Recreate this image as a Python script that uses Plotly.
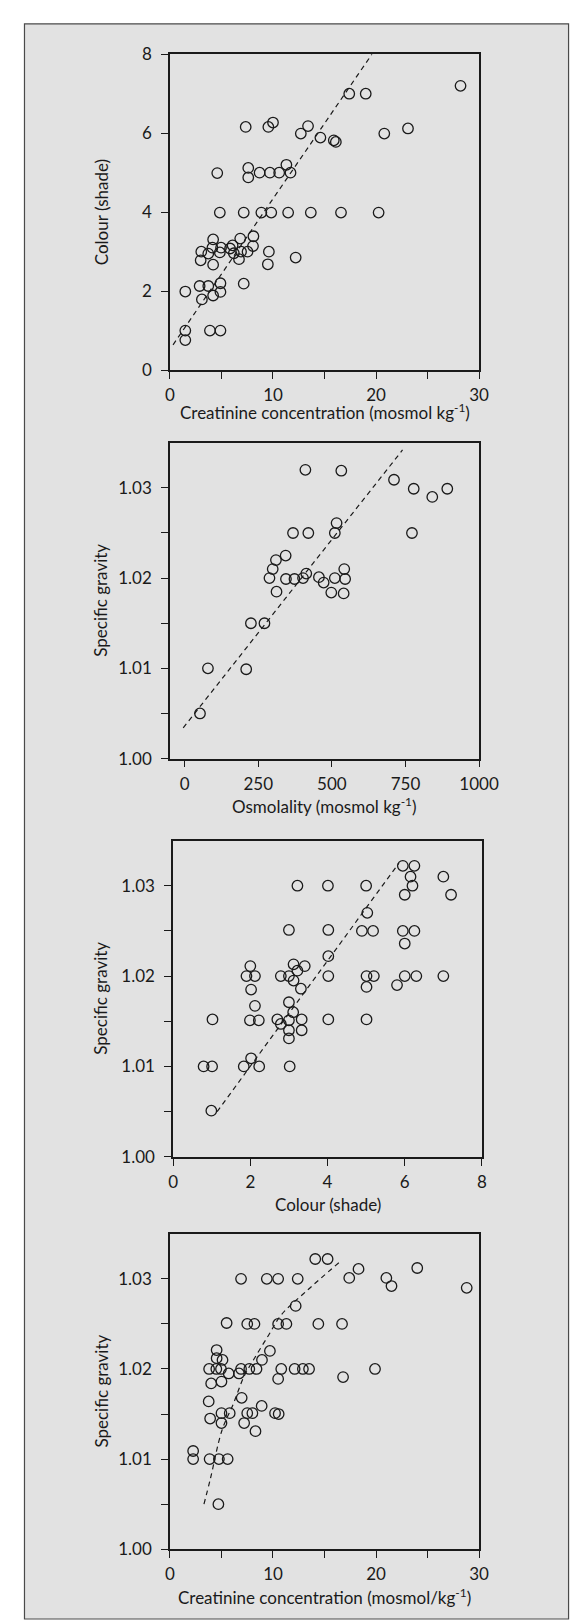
import plotly.graph_objects as go

# ---------------- data ----------------
# Panel 1: creatinine vs colour
p1_creat = [17.4, 19.0, 7.35, 9.55, 10.0, 12.7, 13.4, 14.6, 15.9, 16.1,
            4.59, 7.6, 7.6, 8.7, 9.7, 10.6, 11.3, 11.7,
            4.84, 7.16, 8.87, 9.83, 11.47, 13.67, 16.6, 20.25,
            28.2, 23.1, 20.8,
            1.49, 1.49, 1.49, 3.88, 4.9, 2.88, 3.72, 3.1, 4.19, 4.9, 4.9, 7.16,
            2.98, 3.04, 3.72, 4.19, 4.12, 4.19, 4.84, 4.96, 5.83, 6.08, 6.2, 6.7,
            6.82, 6.9, 7.53, 8.06, 8.1, 9.6, 9.5, 12.2]
p1_colour = [7.0, 7.0, 6.16, 6.16, 6.27, 5.99, 6.18, 5.89, 5.82, 5.78,
             4.99, 5.12, 4.88, 5.0, 5.0, 5.0, 5.2, 5.0,
             3.99, 3.99, 3.99, 3.99, 3.99, 3.99, 3.99, 3.99,
             7.2, 6.12, 5.99,
             1.99, 1.0, 0.76, 1.0, 1.0, 2.13, 2.13, 1.79, 1.89, 1.98, 2.2, 2.19,
             2.78, 3.0, 2.95, 3.31, 3.1, 2.67, 2.98, 3.1, 3.08, 3.16, 2.96, 2.81,
             3.33, 3.0, 3.0, 3.14, 3.39, 3.0, 2.68, 2.85]
p1_fit_x = [0.3, 19.6]
p1_fit_y = [0.64, 8.0]

# Panel 2: osmolality vs specific gravity
p2_osmo = [410, 532, 368, 420, 343, 310, 299, 288, 312, 344, 373, 402, 413,
           456, 472, 498, 510, 510, 516, 542, 545, 540,
           711, 778, 841, 892, 772,
           225, 271, 79, 209, 52]
p2_sg = [1.0320, 1.0319, 1.0250, 1.0250, 1.0225, 1.0220, 1.0210, 1.0200, 1.0185,
         1.0199, 1.0199, 1.0200, 1.0205, 1.0201, 1.0195, 1.0184, 1.0200, 1.0250,
         1.0261, 1.0210, 1.0199, 1.0183,
         1.0309, 1.0299, 1.0290, 1.0299, 1.0250,
         1.0150, 1.0150, 1.0100, 1.0099, 1.0050]
p2_fit_x = [-5, 740]
p2_fit_y = [1.0034, 1.0342]

# Panel 3: colour vs specific gravity
p3_colour = [3.22, 4.01, 5.0, 3.0, 4.02, 4.89, 5.18, 5.03, 4.02, 4.02, 5.01, 5.2,
             5.01, 2.0, 1.9, 2.12, 2.02, 2.12, 2.79, 3.0, 3.12, 3.12, 3.22, 3.41,
             3.31, 3.0, 1.02, 1.99, 2.22, 2.7, 3.11, 3.0, 2.79, 3.0, 3.0, 3.33,
             3.33, 4.02, 5.01, 0.79, 1.01, 1.83, 2.02, 2.23, 3.02, 0.99,
             5.95, 6.25, 6.15, 6.2, 6.0, 5.95, 6.25, 6.0, 6.0, 5.8, 6.3, 7.0, 7.2, 7.0]
p3_sg = [1.0300, 1.0300, 1.0300, 1.0251, 1.0251, 1.0250, 1.0250, 1.0270, 1.0222,
         1.0200, 1.0200, 1.0200, 1.0188, 1.0211, 1.0200, 1.0200, 1.0185, 1.0167,
         1.0200, 1.0200, 1.0195, 1.0213, 1.0206, 1.0211, 1.0186, 1.0171, 1.0152,
         1.0151, 1.0151, 1.0152, 1.0160, 1.0151, 1.0147, 1.0140, 1.0131, 1.0152,
         1.0140, 1.0152, 1.0152, 1.0100, 1.0100, 1.0100, 1.0109, 1.0100, 1.0100,
         1.0051,
         1.0322, 1.0322, 1.0310, 1.0300, 1.0290, 1.0250, 1.0250, 1.0236, 1.0200,
         1.0190, 1.0200, 1.0310, 1.0290, 1.0200]
p3_fit_x = [1.14, 5.85]
p3_fit_y = [1.0050, 1.0325]

# Panel 4: creatinine vs specific gravity
p4_creat = [14.1, 15.3, 18.3, 17.4, 21.0, 21.5, 6.9, 9.4, 10.5, 12.4, 12.2,
            5.5, 7.5, 8.2, 10.5, 11.3, 14.4, 16.7, 9.7, 8.93, 4.53, 4.53, 5.1,
            3.8, 4.5, 4.95, 5.7, 6.7, 6.9, 7.7, 8.4, 10.8, 12.1, 12.9, 13.5,
            19.9, 16.8, 10.5, 4.0, 5.0, 3.76, 6.96, 8.9, 3.9, 5.0, 5.8, 5.0,
            7.5, 8.0, 7.2, 8.3, 10.2, 10.55, 2.25, 2.25, 3.85, 4.75, 5.6, 4.7,
            24.0, 28.8]
p4_sg = [1.0322, 1.0322, 1.0311, 1.0301, 1.0301, 1.0292, 1.0300, 1.0300, 1.0300,
         1.0300, 1.0270, 1.0251, 1.0250, 1.0250, 1.0250, 1.0250, 1.0250, 1.0250,
         1.0220, 1.0210, 1.0221, 1.0212, 1.0210, 1.0200, 1.0200, 1.0200, 1.0195,
         1.0195, 1.0200, 1.0200, 1.0200, 1.0200, 1.0200, 1.0200, 1.0200, 1.0200,
         1.0191, 1.0189, 1.0184, 1.0186, 1.0164, 1.0168, 1.0159, 1.0145, 1.0151,
         1.0151, 1.0140, 1.0151, 1.0151, 1.0140, 1.0131, 1.0151, 1.0150, 1.0109,
         1.0100, 1.0100, 1.0100, 1.0100, 1.0050,
         1.0312, 1.0290]
p4_fit_x = [3.3, 3.9, 5.05, 6.14, 7.2, 8.05, 9.6, 10.8, 13.3, 16.4]
p4_fit_y = [1.0050, 1.0077, 1.0132, 1.0161, 1.0192, 1.0209, 1.0238, 1.0260, 1.0287, 1.0318]

# tick labels
creat_tickvals = [0, 10, 20, 30]
creat_ticktext = ["0", "10", "20", "30"]
creat_minor = [5, 15, 25]
colour_tickvals = [0, 2, 4, 6, 8]
colour_ticktext = ["0", "2", "4", "6", "8"]
osmo_tickvals = [0, 250, 500, 750, 1000]
osmo_ticktext = ["0", "250", "500", "750", "1000"]
sg_tickvals = [1.00, 1.01, 1.02, 1.03]
sg_ticktext = ["1.00", "1.01", "1.02", "1.03"]
sg_minor = [1.005, 1.015, 1.025]

# ---------------- layout helpers ----------------
W, H = 582, 1622
FONT = "Lato, 'Open Sans', sans-serif"
INK = "#1a1a1a"
FS = 17


def fx(px):
    return px / W


def fy(py):
    return 1 - py / H


panels = [
    # (x0, x1, ytop, ybottom)
    (164, 487, 35.7, 355.7),
    (164, 487, 429.3, 749.3),
    (167.3, 490, 832.3, 1152.7),
    (164, 487, 1230.7, 1550.3),
]

fig = go.Figure()

series = [
    (p1_creat, p1_colour, p1_fit_x, p1_fit_y, "linear"),
    (p2_osmo, p2_sg, p2_fit_x, p2_fit_y, "linear"),
    (p3_colour, p3_sg, p3_fit_x, p3_fit_y, "linear"),
    (p4_creat, p4_sg, p4_fit_x, p4_fit_y, "spline"),
]

for i, (xs, ys, fxs, fys, shape) in enumerate(series):
    ax = "" if i == 0 else str(i + 1)
    fig.add_trace(go.Scatter(
        x=fxs, y=fys, mode="lines", xaxis="x" + ax, yaxis="y" + ax,
        line=dict(color=INK, width=1.2, dash="5px,4px", shape=shape),
        hoverinfo="skip", showlegend=False))
    fig.add_trace(go.Scatter(
        x=xs, y=ys, mode="markers", xaxis="x" + ax, yaxis="y" + ax,
        marker=dict(symbol="circle-open", size=10.5, color=INK,
                    line=dict(color=INK, width=1.3)),
        showlegend=False, cliponaxis=False))

axis_specs = [
    (creat_tickvals, creat_ticktext, creat_minor, [0, 30],
     colour_tickvals, colour_ticktext, None, [0, 8]),
    (osmo_tickvals, osmo_ticktext, None, [-50, 1000],
     sg_tickvals, sg_ticktext, sg_minor, [1.0, 1.035]),
    (colour_tickvals, colour_ticktext, None, [0, 8],
     sg_tickvals, sg_ticktext, sg_minor, [1.0, 1.035]),
    (creat_tickvals, creat_ticktext, creat_minor, [0, 30],
     sg_tickvals, sg_ticktext, sg_minor, [1.0, 1.035]),
]

common = dict(showline=True, linecolor=INK, linewidth=1.5, mirror=True,
              ticks="outside", ticklen=7, tickwidth=1.3, tickcolor=INK,
              showgrid=False, zeroline=False,
              tickfont=dict(family=FONT, size=FS, color=INK))


def minor_spec(vals):
    if not vals:
        return dict(ticks="", showgrid=False)
    return dict(tickvals=vals, ticks="outside", ticklen=7, tickwidth=1.3,
                tickcolor=INK, showgrid=False)


layout = dict(width=W, height=H, margin=dict(l=0, r=0, t=0, b=0),
              paper_bgcolor="white", plot_bgcolor="white", showlegend=False)

for i, ((x0, x1, yt, yb), (xtv, xtt, xmn, xr, ytv, ytt, ymn, yr)) in enumerate(zip(panels, axis_specs)):
    n = "" if i == 0 else str(i + 1)
    layout["xaxis" + n] = dict(common, domain=[fx(x0), fx(x1)], range=xr,
                               tickvals=xtv, ticktext=xtt, anchor="y" + n,
                               ticklabelstandoff=2, minor=minor_spec(xmn))
    layout["yaxis" + n] = dict(common, domain=[fy(yb), fy(yt)], range=yr,
                               tickvals=ytv, ticktext=ytt, anchor="x" + n,
                               ticklabelstandoff=6, minor=minor_spec(ymn))

fig.update_layout(**layout)

# background frame
fig.add_shape(type="rect", xref="paper", yref="paper", layer="below",
              x0=fx(12), x1=fx(580.5), y0=fy(1621), y1=fy(5),
              fillcolor="#e2e2e2", line=dict(color="#4a4a4a", width=1.2))

xtitles = ["Creatinine concentration (mosmol kg<sup>-1</sup>)",
           "Osmolality (mosmol kg<sup>-1</sup>)",
           "Colour (shade)",
           "Creatinine concentration (mosmol/kg<sup>-1</sup>)"]
ytitles = ["Colour (shade)", "Specific gravity", "Specific gravity", "Specific gravity"]
xtitle_off = [42, 48, 48.5, 48]

for (x0, x1, yt, yb), xt, yt_text, off in zip(panels, xtitles, ytitles, xtitle_off):
    fig.add_annotation(xref="paper", yref="paper", x=fx((x0 + x1) / 2), y=fy(yb + off),
                       text=xt, showarrow=False, xanchor="center", yanchor="middle",
                       font=dict(family=FONT, size=FS, color=INK))
    fig.add_annotation(xref="paper", yref="paper", x=fx(92), y=fy((yt + yb) / 2),
                       text=yt_text, textangle=-90, showarrow=False,
                       xanchor="center", yanchor="middle",
                       font=dict(family=FONT, size=FS, color=INK))

fig.write_html("out.html")
